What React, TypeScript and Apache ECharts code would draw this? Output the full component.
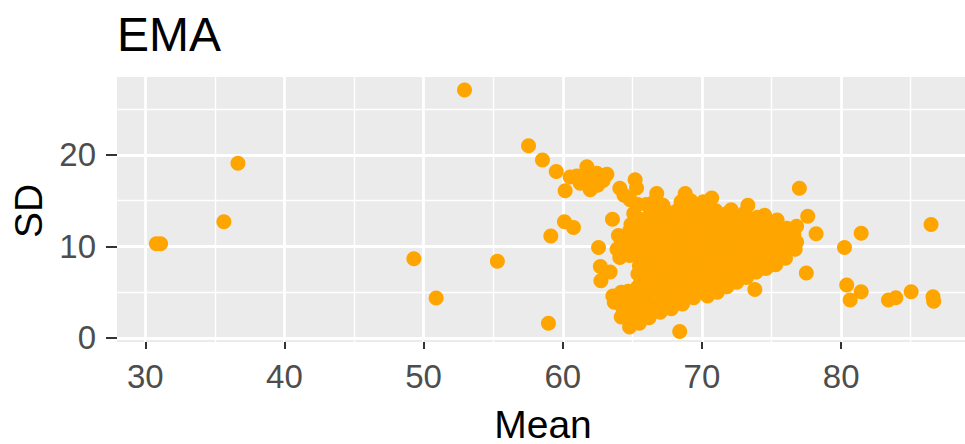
import React, { useEffect, useRef } from "react";
import * as echarts from "echarts";

// Tick positions and gridlines
const xTicks = [30, 40, 50, 60, 70, 80];
const xMinor = [35, 45, 55, 65, 75, 85];
const yTicks = [0, 10, 20];
const yMinor = [5, 15, 25];

// Isolated observations (Mean, SD)
const sparsePoints: [number, number][] = [
  [30.8, 10.3], [31.1, 10.3], [35.65, 12.7], [36.66, 19.1], [49.3, 8.67], [50.9, 4.37],
  [52.94, 27.1], [55.3, 8.38], [57.54, 21.0], [58.54, 19.45], [59.53, 18.2], [60.17, 16.1],
  [58.97, 1.6], [59.14, 11.15], [60.12, 12.7], [60.77, 12.06], [62.57, 9.9], [62.7, 7.8],
  [63.4, 7.2], [62.74, 6.26], [63.57, 12.97], [77.0, 16.36], [77.6, 13.3], [78.2, 11.4],
  [77.5, 7.1], [73.8, 5.3], [68.4, 0.7], [80.24, 9.9], [81.44, 11.44], [86.46, 12.4],
  [80.4, 5.8], [80.65, 4.15], [81.44, 5.06], [83.4, 4.15], [83.93, 4.4], [85.03, 5.06],
  [86.6, 4.5], [86.65, 4.0],
];

// Upper arm of high-SD schools
const upperArm: [number, number][] = [
  [60.53, 17.6], [61.0, 17.7], [61.25, 16.9], [61.73, 18.7], [61.5, 17.8], [61.97, 16.2],
  [62.0, 17.4], [62.45, 18.0], [62.5, 16.7], [62.9, 17.2], [63.17, 17.9], [64.1, 16.35],
  [64.4, 15.6], [64.84, 15.1], [65.2, 17.3], [65.3, 16.4], [65.4, 14.6], [65.1, 13.6],
  [66.0, 14.6], [66.75, 15.8], [66.5, 14.8], [67.2, 14.5], [68.8, 15.8], [68.5, 14.9],
  [69.2, 15.0], [70.1, 14.9], [70.7, 15.3], [72.1, 14.0], [73.3, 14.5], [74.5, 13.4],
  [75.4, 12.9], [76.8, 12.2],
];

// Dense core of the distribution
const mainCluster: [number, number][] = [
  [64.1, 8.8], [63.9, 9.7], [64.2, 10.6], [64.0, 11.2],
  [64.8, 9.0], [64.7, 9.9], [64.9, 10.8], [64.8, 11.7], [64.9, 12.4],
  [65.5, 5.2], [65.6, 6.1], [65.4, 7.0], [65.5, 7.9], [65.6, 8.8], [65.4, 9.7], [65.5, 10.6], [65.6, 11.5], [65.4, 12.4], [65.5, 13.0],
  [66.2, 5.4], [66.1, 6.3], [66.3, 7.2], [66.2, 8.1], [66.1, 9.0], [66.3, 9.9], [66.2, 10.8], [66.1, 11.7], [66.3, 12.6], [66.2, 13.3],
  [66.9, 5.8], [67.0, 6.7], [66.8, 7.6], [66.9, 8.5], [67.0, 9.4], [66.8, 10.3], [66.9, 11.2], [67.0, 12.1], [66.8, 13.0], [66.9, 13.6],
  [67.6, 5.9], [67.5, 6.8], [67.7, 7.7], [67.6, 8.6], [67.5, 9.5], [67.7, 10.4], [67.6, 11.3], [67.5, 12.2], [67.7, 13.1], [67.6, 13.7],
  [68.3, 6.0], [68.2, 6.9], [68.4, 7.8], [68.3, 8.7], [68.2, 9.6], [68.4, 10.5], [68.3, 11.4], [68.2, 12.3], [68.4, 13.2], [68.3, 14.0],
  [69.0, 6.1], [69.1, 7.0], [68.9, 7.9], [69.0, 8.8], [69.1, 9.7], [68.9, 10.6], [69.0, 11.5], [69.1, 12.4], [68.9, 13.3], [69.0, 14.1],
  [69.7, 5.2], [69.6, 6.1], [69.8, 7.0], [69.7, 7.9], [69.6, 8.8], [69.8, 9.7], [69.7, 10.6], [69.6, 11.5], [69.8, 12.4], [69.7, 13.3], [69.6, 14.2],
  [70.4, 4.6], [70.5, 5.5], [70.3, 6.4], [70.4, 7.3], [70.5, 8.2], [70.3, 9.1], [70.4, 10.0], [70.5, 10.9], [70.3, 11.8], [70.4, 12.7], [70.5, 13.6], [70.3, 14.4],
  [71.1, 5.0], [71.0, 5.9], [71.2, 6.8], [71.1, 7.7], [71.0, 8.6], [71.2, 9.5], [71.1, 10.4], [71.0, 11.3], [71.2, 12.2], [71.1, 13.1], [71.0, 13.9],
  [71.8, 5.6], [71.9, 6.5], [71.7, 7.4], [71.8, 8.3], [71.9, 9.2], [71.7, 10.1], [71.8, 11.0], [71.9, 11.9], [71.7, 12.8], [71.8, 13.6],
  [72.5, 6.1], [72.4, 7.0], [72.6, 7.9], [72.5, 8.8], [72.4, 9.7], [72.6, 10.6], [72.5, 11.5], [72.4, 12.4], [72.6, 13.3],
  [73.2, 6.6], [73.3, 7.5], [73.1, 8.4], [73.2, 9.3], [73.3, 10.2], [73.1, 11.1], [73.2, 12.0], [73.3, 12.9], [73.1, 13.7],
  [73.9, 7.2], [74.0, 8.1], [73.8, 9.0], [73.9, 9.9], [74.0, 10.8], [73.8, 11.7], [73.9, 12.6], [74.0, 13.2],
  [74.6, 7.6], [74.5, 8.5], [74.7, 9.4], [74.6, 10.3], [74.5, 11.2], [74.7, 12.1], [74.6, 12.9],
  [75.3, 8.0], [75.4, 8.9], [75.2, 9.8], [75.3, 10.7], [75.4, 11.6], [75.2, 12.4],
  [76.0, 8.7], [76.1, 9.6], [75.9, 10.5], [76.0, 11.4], [76.1, 12.0],
  [76.7, 9.7], [76.8, 10.5], [76.6, 11.3],
];

// Low-SD lobe below the core
const lowerLobe: [number, number][] = [
  [63.7, 3.9], [63.6, 4.6],
  [64.2, 2.3], [64.3, 3.3], [64.1, 4.3], [64.2, 5.0],
  [64.8, 1.2], [64.7, 2.2], [64.9, 3.2], [64.8, 4.2], [64.7, 5.1],
  [65.5, 1.6], [65.4, 2.6], [65.6, 3.6], [65.5, 4.6], [65.4, 5.6],
  [66.2, 2.2], [66.3, 3.1], [66.1, 4.0], [66.2, 5.0], [66.3, 6.0],
  [67.0, 2.8], [66.9, 3.7], [67.1, 4.7], [67.0, 5.7],
  [67.8, 3.2], [67.7, 4.1], [67.9, 5.1],
  [68.6, 3.7], [68.5, 4.5], [68.7, 5.5],
  [69.4, 4.4], [69.3, 5.3],
];

const allPoints = [...sparsePoints, ...upperArm, ...mainCluster, ...lowerLobe];

const FONT = "'Liberation Sans', Arial, Helvetica, sans-serif";

export default function App() {
  const ref = useRef<HTMLDivElement>(null);

  useEffect(() => {
    if (!ref.current) return;
    const chart = echarts.init(ref.current, null, { renderer: "svg" });

    const gridLine = (axis: "xAxis" | "yAxis", values: number[], width: number) =>
      values.map((v) => ({ [axis]: v, lineStyle: { color: "#FFFFFF", width, type: "solid" } }));

    chart.setOption({
      animation: false,
      grid: {
        left: 117,
        top: 77,
        right: 0,
        bottom: 102,
        show: true,
        backgroundColor: "#EBEBEB",
        borderWidth: 0,
      },
      xAxis: {
        type: "value",
        min: 27.97,
        max: 88.9,
        axisLine: { show: false },
        splitLine: { show: false },
        axisTick: {
          show: true,
          customValues: xTicks,
          length: 11,
          lineStyle: { color: "#333333", width: 2 },
        },
        axisLabel: {
          customValues: xTicks,
          fontSize: 33,
          color: "#4D4D4D",
          fontFamily: FONT,
          margin: 18,
        },
      },
      yAxis: {
        type: "value",
        min: -0.44,
        max: 28.52,
        axisLine: { show: false },
        splitLine: { show: false },
        axisTick: {
          show: true,
          customValues: yTicks,
          length: 11,
          lineStyle: { color: "#333333", width: 2 },
        },
        axisLabel: {
          customValues: yTicks,
          fontSize: 33,
          color: "#4D4D4D",
          fontFamily: FONT,
          margin: 21,
        },
      },
      series: [
        {
          type: "scatter",
          data: [],
          z: 1,
          silent: true,
          markLine: {
            z: 1,
            silent: true,
            symbol: ["none", "none"],
            label: { show: false },
            animation: false,
            data: [
              ...gridLine("xAxis", xMinor, 1.4),
              ...gridLine("yAxis", yMinor, 1.4),
              ...gridLine("xAxis", xTicks, 2.8),
              ...gridLine("yAxis", yTicks, 2.8),
            ],
          },
        },
        {
          type: "scatter",
          z: 3,
          data: allPoints,
          symbol: "circle",
          symbolSize: 15,
          itemStyle: { color: "#FFA500", opacity: 1 },
        },
      ],
      graphic: [
        {
          type: "text",
          left: 117,
          top: 10,
          style: { text: "EMA", font: `48px ${FONT}`, fill: "#000000" },
        },
        {
          type: "text",
          x: 543,
          y: 424,
          style: {
            text: "Mean",
            font: `39px ${FONT}`,
            fill: "#000000",
            align: "center",
            verticalAlign: "middle",
          },
        },
        {
          type: "text",
          x: 28,
          y: 211,
          rotation: Math.PI / 2,
          style: {
            text: "SD",
            font: `39px ${FONT}`,
            fill: "#000000",
            align: "center",
            verticalAlign: "middle",
          },
        },
      ],
    });

    return () => chart.dispose();
  }, []);

  return (
    <div
      ref={ref}
      style={{ position: "fixed", left: 0, top: 0, width: 965, height: 444, background: "#FFFFFF" }}
    />
  );
}
